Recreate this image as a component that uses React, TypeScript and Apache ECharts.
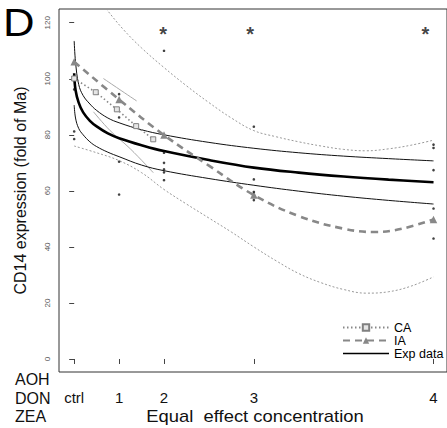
import React, { useEffect, useRef } from "react";
import * as echarts from "echarts";

// ---- Data ----
const xTicks = [0, 1, 2, 4, 8];
const xTickLabels = ["ctrl", "1", "2", "3", "4"];
const yTicks = [0, 20, 40, 60, 80, 100, 120];

// Experimental fit (thick black) and its confidence band
const expX = [0, 0.03, 0.1, 0.2, 0.35, 0.5, 0.75, 1, 1.5, 2, 3, 4, 5, 6, 7, 8];
const expFit = [102, 96, 91.5, 88, 85, 83, 80.5, 78.8, 76.3, 74.2, 71, 68.3, 66.5, 65.1, 64, 63.1];
const expUpper = [113.5, 106, 98, 94, 91, 88.7, 86, 84.3, 81.8, 80, 77.3, 75.2, 73.6, 72.4, 71.5, 70.7];
const expLower = [90.6, 86, 82.3, 80, 77.5, 75.8, 73.8, 72.2, 69.2, 67.2, 64.4, 62, 59.9, 58.1, 56.6, 55.3];

// CA prediction (dotted, squares) and its band
const caX = [0, 0.48, 0.95, 1.38, 1.76];
const caY = [100.1, 95.2, 89.1, 83.1, 78.4];
const caUpperX = [0.65, 1.0, 1.39];
const caUpperY = [100.1, 96.3, 92.1];
const caLowerX = [0.43, 0.8, 1.25, 1.76];
const caLowerY = [88.2, 81.5, 75, 66.5];

// IA prediction (dashed, triangles) and its band
const iaX = [0, 1, 2, 3, 4, 5, 6, 6.7, 7.3, 8];
const iaY = [106.1, 92.6, 79.9, 69, 58.5, 51, 46.5, 45.3, 46.5, 49.8];
const iaMarkerX = [0, 1, 2, 4, 8];
const iaUpperX = [0.55, 0.73, 1.1, 1.5, 2, 2.5, 3, 3.5, 4, 4.5, 5, 5.5, 6, 6.5, 7, 7.5, 8];
const iaUpperY = [128.5, 124.6, 117.5, 111, 104, 97.5, 91.5, 86, 81.5, 79.3, 77.5, 76, 74.8, 74.3, 75, 76.3, 78.1];
const iaLowerX = [0, 0.5, 1, 1.5, 2, 2.5, 3, 3.5, 4, 4.5, 5, 5.5, 6, 6.5, 7, 7.5, 8];
const iaLowerY = [76, 73.6, 70.8, 66.5, 60.5, 55.3, 50.3, 45.3, 40, 35, 30.5, 27.2, 24.8, 23.5, 24, 26, 29.3];

// Observed data points
const obsX = [0, 0, 0, 1, 1, 1, 1, 2, 2, 2, 2, 2, 2, 4, 4, 4, 4, 8, 8, 8, 8, 8];
const obsY = [96.2, 81.2, 78.5, 94.5, 86.2, 70.4, 58.7, 110, 73.6, 70, 67.7, 66.6, 63.8, 82.9, 64.1, 59.6, 56.7, 76.5, 75.3, 67.4, 53.7, 43];

// Significance marks
const starX = [1.98, 3.92, 7.82];
const starY = [115.9, 115.9, 115.9];

const FONT = "'Liberation Sans', Arial, Helvetica, sans-serif";

const zip = (xs: number[], ys: number[]) => xs.map((x, i) => [x, ys[i]]);

export default function App() {
  const ref = useRef<HTMLDivElement>(null);
  useEffect(() => {
    if (!ref.current) return;
    const chart = echarts.init(ref.current, undefined, { renderer: "svg" });
    const thin = (color: string, width: number, type: any) => ({
      type: "line",
      smooth: 0.4,
      symbol: "none",
      silent: true,
      lineStyle: { color, width, type },
      z: 2,
    });
    chart.setOption({
      animation: false,
      backgroundColor: "#fff",
      grid: {
        left: 59,
        top: 9,
        bottom: 56,
        right: -3,
        show: true,
        borderColor: "#333",
        borderWidth: 1,
        backgroundColor: "transparent",
      },
      xAxis: {
        type: "value",
        min: -0.338,
        max: 8.3,
        axisLine: { show: false },
        splitLine: { show: false },
        axisTick: {
          show: true,
          customValues: xTicks,
          length: 5,
          lineStyle: { color: "#444" },
        },
        axisLabel: {
          customValues: xTicks,
          formatter: (v: number) => xTickLabels[xTicks.indexOf(v)] ?? "",
          margin: 18,
          fontSize: 15,
          color: "#111",
          fontFamily: FONT,
        },
      },
      yAxis: {
        type: "value",
        min: -4.64,
        max: 124.9,
        axisLine: { show: false },
        splitLine: { show: false },
        axisTick: {
          show: true,
          customValues: yTicks,
          length: 5,
          lineStyle: { color: "#444" },
        },
        axisLabel: {
          customValues: yTicks,
          rotate: 90,
          margin: 8,
          fontSize: 8,
          color: "#555",
          fontFamily: FONT,
        },
        name: "CD14 expression (fold of Ma)",
        nameLocation: "middle",
        nameGap: 31,
        nameTextStyle: { fontSize: 16, color: "#111", fontFamily: FONT },
      },
      legend: {
        data: [
          { name: "CA" },
          { name: "IA" },
          { name: "Exp data", lineStyle: { width: 1.5 }, itemStyle: { opacity: 0 } },
        ],
        orient: "vertical",
        left: 337,
        top: 316,
        itemWidth: 46,
        itemHeight: 8,
        itemGap: 0,
        selectedMode: false,
        textStyle: { fontSize: 12.5, lineHeight: 12.6, color: "#000", fontFamily: FONT },
      },
      series: [
        { ...thin("#999", 1, [2, 2]), name: "iaUpper", data: zip(iaUpperX, iaUpperY) },
        { ...thin("#999", 1, [2, 2]), name: "iaLower", data: zip(iaLowerX, iaLowerY) },
        { ...thin("#aaa", 1, "solid"), name: "caUpper", data: zip(caUpperX, caUpperY) },
        { ...thin("#aaa", 1, "solid"), name: "caLower", data: zip(caLowerX, caLowerY) },
        { ...thin("#111", 1, "solid"), name: "expUpper", data: zip(expX, expUpper) },
        { ...thin("#111", 1, "solid"), name: "expLower", data: zip(expX, expLower) },
        {
          name: "Exp data",
          type: "line",
          smooth: 0.4,
          symbol: "none",
          lineStyle: { color: "#000", width: 2.6 },
          itemStyle: { color: "#000" },
          z: 3,
          data: zip(expX, expFit),
        },
        {
          name: "CA",
          type: "line",
          symbol: "rect",
          symbolSize: 5,
          lineStyle: { color: "#888", width: 1.6, type: [1.5, 2.5] },
          itemStyle: { color: "#e6e6e6", borderColor: "#808080", borderWidth: 1 },
          z: 4,
          data: zip(caX, caY),
        },
        {
          name: "IA",
          type: "line",
          smooth: 0.4,
          symbol: "triangle",
          symbolSize: 7.5,
          lineStyle: { color: "#888", width: 2.6, type: [7, 5] },
          itemStyle: { color: "#888" },
          z: 4,
          data: iaX.map((x, i) =>
            iaMarkerX.includes(x)
              ? { value: [x, iaY[i]] }
              : { value: [x, iaY[i]], symbol: "none" }
          ),
        },
        {
          name: "obs",
          type: "scatter",
          symbol: "circle",
          symbolSize: 2.6,
          itemStyle: { color: "#111" },
          silent: true,
          z: 5,
          data: zip(obsX, obsY),
        },
        {
          name: "stars",
          type: "scatter",
          symbol: "circle",
          symbolSize: 1,
          itemStyle: { color: "transparent" },
          silent: true,
          label: {
            show: true,
            position: "inside",
            formatter: "*",
            fontSize: 20,
            fontWeight: "bold",
            color: "#111",
            fontFamily: FONT,
          },
          data: zip(starX, starY),
        },
      ],
      graphic: [
        {
          type: "text",
          x: 3,
          y: 23,
          scaleX: 1.15,
          style: { text: "D", fontSize: 38, fill: "#000", fontFamily: FONT, verticalAlign: "middle" },
        },
        {
          type: "text",
          x: 15,
          y: 379,
          style: { text: "AOH", fontSize: 16, fill: "#111", fontFamily: FONT, verticalAlign: "middle" },
        },
        {
          type: "text",
          x: 15,
          y: 398,
          style: { text: "DON", fontSize: 16, fill: "#111", fontFamily: FONT, verticalAlign: "middle" },
        },
        {
          type: "text",
          x: 15,
          y: 416,
          style: { text: "ZEA", fontSize: 16, fill: "#111", fontFamily: FONT, verticalAlign: "middle" },
        },
        {
          type: "text",
          x: 255,
          y: 416,
          scaleX: 1.15,
          style: {
            text: "Equal  effect concentration",
            fontSize: 16,
            fill: "#111",
            fontFamily: FONT,
            align: "center",
            verticalAlign: "middle",
          },
        },
      ],
    });
    return () => chart.dispose();
  }, []);
  return (
    <div
      ref={ref}
      style={{ position: "fixed", left: 0, top: 0, width: 447, height: 428, background: "#fff" }}
    />
  );
}
